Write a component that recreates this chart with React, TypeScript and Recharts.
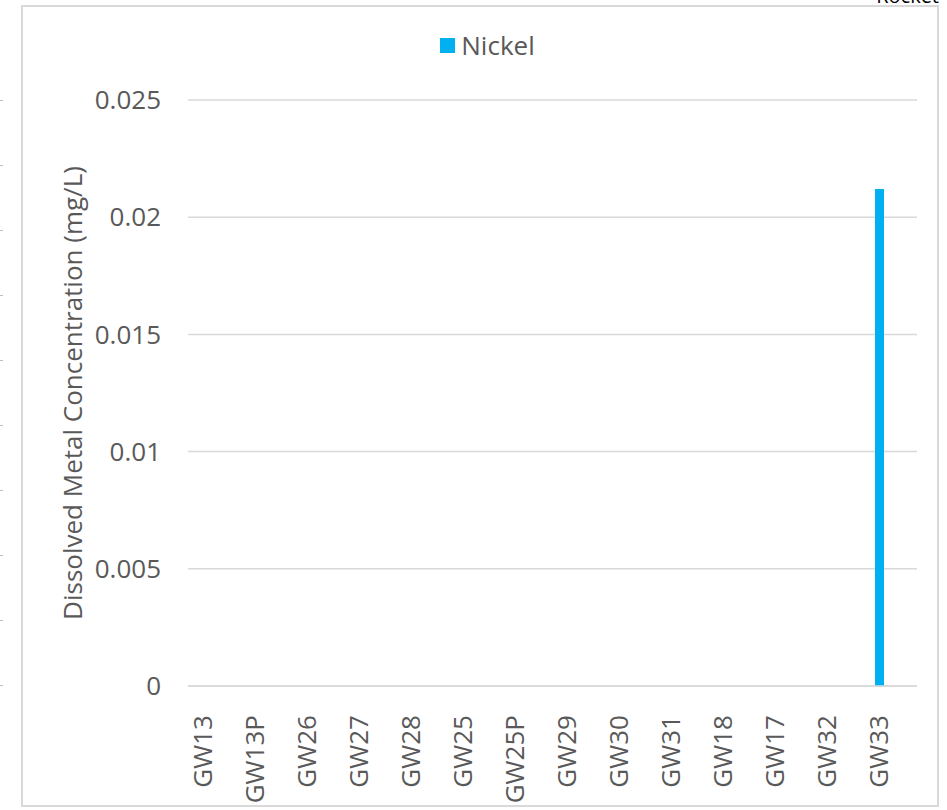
import { BarChart, Bar, XAxis, YAxis, CartesianGrid, Legend } from "recharts";

const wells = ["GW13", "GW13P", "GW26", "GW27", "GW28", "GW25", "GW25P", "GW29", "GW30", "GW31", "GW18", "GW17", "GW32", "GW33"];
const nickel = [0, 0, 0, 0, 0, 0, 0, 0, 0, 0, 0, 0, 0, 0.0212];
const yTicks = [0, 0.005, 0.01, 0.015, 0.02, 0.025];

const data = wells.map((w, i) => ({ well: w, nickel: nickel[i] }));

const font = "'Open Sans', sans-serif";
const grey = "#595959";

const XTick = (props: any) => {
  const { x, y, payload } = props;
  return (
    <text
      x={x}
      y={y + 21}
      transform={`rotate(-90, ${x}, ${y + 21})`}
      textAnchor="end"
      dy="0.36em"
      fontSize={26}
      fill={grey}
      fontFamily={font}
    >
      {payload.value}
    </text>
  );
};

const YLabel = (props: any) => {
  const vb = props.viewBox;
  const cx = vb.x + 50;
  const cy = vb.y + vb.height / 2;
  return (
    <text
      x={cx}
      y={cy}
      transform={`rotate(-90, ${cx}, ${cy})`}
      textAnchor="middle"
      dominantBaseline="central"
      fontSize={26}
      fill={grey}
      fontFamily={font}
    >
      Dissolved Metal Concentration (mg/L)
    </text>
  );
};

const LegendBox = () => (
  <div style={{ display: "flex", justifyContent: "center", alignItems: "center", paddingLeft: 13, height: 30 }}>
    <span style={{ width: 15, height: 15, background: "#00b0f0", display: "inline-block", marginRight: 6 }} />
    <span style={{ fontSize: 26, color: grey, fontFamily: font, lineHeight: "30px" }}>Nickel</span>
  </div>
);

export default function App() {
  const leftTicks = [100, 165, 230, 295, 360, 425, 490, 555, 620, 685];
  return (
    <div style={{ position: "absolute", left: 0, top: 0, width: 947, height: 810, background: "#fff", overflow: "hidden" }}>
      {leftTicks.map((t) => (
        <div key={t} style={{ position: "absolute", left: 0, top: t, width: 3, height: 1, background: "#bfbfbf" }} />
      ))}
      <div style={{ position: "absolute", right: 8, top: -18, fontSize: 20, fontFamily: font, color: "#000" }}>Rocket</div>
      <div style={{ position: "absolute", left: 21, top: 5, width: 918, height: 802, border: "2px solid #d9d9d9", boxSizing: "border-box" }} />
      <div style={{ position: "absolute", left: 22, top: 6 }}>
        <BarChart width={918} height={802} data={data} margin={{ top: 94, right: 23, left: 0, bottom: 0 }}>
          <CartesianGrid vertical={false} stroke="#d9d9d9" strokeWidth={1.5} />
          <XAxis
            dataKey="well"
            height={122}
            padding={{ left: -11, right: 12 }}
            tickLine={false}
            axisLine={{ stroke: "#d9d9d9", strokeWidth: 1.5 }}
            tick={<XTick />}
            interval={0}
          />
          <YAxis
            width={166}
            domain={[0, 0.025]}
            ticks={yTicks}
            axisLine={false}
            tickLine={false}
            tickSize={0}
            tickMargin={27}
            tick={{ fontSize: 26, fill: grey, fontFamily: font }}
            label={<YLabel />}
          />
          <Legend
            verticalAlign="top"
            content={<LegendBox />}
            wrapperStyle={{ top: 24, left: 0, width: 918, height: 0, overflow: "visible" }}
          />
          <Bar dataKey="nickel" fill="#00b0f0" barSize={9} isAnimationActive={false} />
        </BarChart>
      </div>
    </div>
  );
}
